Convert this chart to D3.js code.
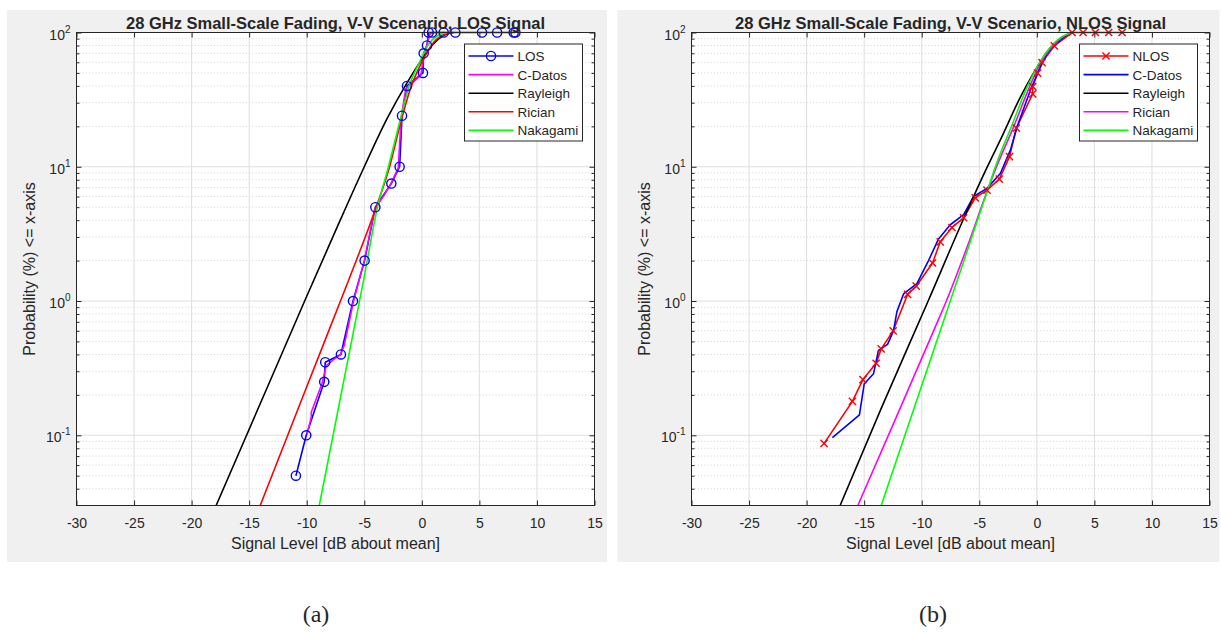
<!DOCTYPE html>
<html>
<head>
<meta charset="utf-8">
<script src="https://cdn.jsdelivr.net/npm/d3@7"></script>
<style>
  body { margin: 0; background: #fff; }
  svg { display: block; }
  text { font-family: Arial, "Liberation Sans", sans-serif; fill: #262626; }
</style>
</head>
<body>
<svg id="fig" width="1221" height="633"></svg>
<script>
// axis setup
const xTicks = [-30, -25, -20, -15, -10, -5, 0, 5, 10, 15];
const yTicks = [0.1, 1, 10, 100];
const xDomain = [-30, 15];
const yDomain = [0.03, 100];

// (a) LOS panel: [signal level dB, probability %]
const losMeasured = [[-10.94, 0.05], [-10.04, 0.1], [-8.48, 0.25], [-8.39, 0.35], [-7.03, 0.4], [-5.98, 1], [-4.97, 2], [-4.04, 5], [-2.65, 7.5], [-1.93, 10], [-1.72, 24], [-1.29, 40], [0.10, 50], [0.16, 70], [0.45, 80], [0.59, 100], [0.89, 100], [1.9, 100], [2.91, 100], [5.23, 100], [6.54, 100], [7.98, 100], [8.13, 100]];
const losCDatos = [[-9.98, 0.101], [-9.61, 0.136], [-9.6, 0.149], [-8.68, 0.242], [-8.3, 0.331], [-7.67, 0.366], [-7.09, 0.397], [-6.74, 0.467], [-5.93, 1.0], [-5.0, 2.0], [-4.1, 4.8], [-3.2, 6.3], [-2.75, 7.3], [-2.05, 9.8], [-1.8, 23], [-1.4, 38], [-0.1, 48], [0.2, 68], [0.5, 85], [0.7, 97], [1.0, 100], [2.0, 100]];
const losRayleigh = [[-17.87, 0.03], [-13.6, 0.21], [-10.18, 1.0], [-7.09, 4.0], [-5.0, 10], [-3.0, 23], [-1.3, 42], [0.16, 66], [1.0, 82], [1.8, 94], [2.7, 100]];
const losRician = [[-14.04, 0.03], [-10, 0.23], [-6.36, 1.43], [-4.04, 4.8], [-2.8, 10], [-1.8, 22], [-1.0, 38], [0, 60], [1, 84], [2, 97], [2.8, 100]];
const losNakagami = [[-8.91, 0.03], [-5.06, 1.43], [-3.85, 5], [-2.9, 10], [-1.9, 22], [-1.1, 40], [-0.2, 60], [0.6, 82], [1.4, 95], [2.3, 100]];

// (b) NLOS panel
const nlosMeasured = [[-18.48, 0.087], [-16.02, 0.179], [-15.11, 0.26], [-13.96, 0.344], [-13.52, 0.44], [-12.48, 0.6], [-11.23, 1.12], [-10.48, 1.29], [-9.06, 1.92], [-8.39, 2.76], [-7.37, 3.53], [-6.36, 4.17], [-5.35, 5.87], [-4.33, 6.7], [-3.26, 8.1], [-2.37, 11.9], [-1.78, 19.4], [-0.36, 34.9], [-0.36, 39.6], [0.07, 49.8], [0.45, 59.7], [1.52, 79.6], [3.06, 100], [4.02, 100], [5.09, 100], [6.24, 100], [7.41, 100]];
const nlosCDatos = [[-17.76, 0.096], [-15.41, 0.142], [-15.0, 0.241], [-14.19, 0.287], [-13.76, 0.428], [-12.97, 0.475], [-12.45, 0.6], [-12.16, 0.83], [-11.58, 1.13], [-10.42, 1.35], [-9.41, 2.0], [-8.54, 2.9], [-7.52, 3.7], [-6.36, 4.4], [-5.5, 6.0], [-4.33, 6.9], [-3.17, 8.9], [-2.3, 13.3], [-1.7, 20], [-0.57, 37], [0.16, 52], [0.89, 70], [2.04, 88], [2.91, 100]];
const nlosRayleigh = [[-17.09, 0.03], [-13.5, 0.16], [-9.44, 1.0], [-6.36, 4.1], [-4.5, 9.2], [-3.0, 17], [-1.43, 33], [-0.28, 50], [0.89, 72], [2.0, 90], [3.2, 100]];
const nlosRician = [[-15.55, 0.03], [-12, 0.15], [-8.97, 0.6], [-7.86, 1], [-6, 2.6], [-4.2, 7], [-3.5, 10], [-2.0, 20], [-0.6, 40], [0.35, 60], [1.4, 80], [2.2, 92], [3, 100]];
const nlosNakagami = [[-13.52, 0.03], [-8.39, 0.6], [-7.52, 1], [-4.2, 7], [-3.6, 10], [-2.2, 20], [-0.8, 40], [0.25, 60], [1.3, 80], [2.1, 92], [3, 100]];

const panels = [
  {
    bg: [7, 10, 600, 552], left: 76.5, caption: "(a)", capX: 316,
    title: "28 GHz Small-Scale Fading, V-V Scenario, LOS Signal",
    series: [
      { name: "LOS", data: losMeasured, color: "#0000ff", marker: "o" },
      { name: "C-Datos", data: losCDatos, color: "#ff00ff" },
      { name: "Rayleigh", data: losRayleigh, color: "#000000", smooth: true },
      { name: "Rician", data: losRician, color: "#ff0000", smooth: true },
      { name: "Nakagami", data: losNakagami, color: "#00ff00", smooth: true }
    ]
  },
  {
    bg: [617.5, 10, 602, 552], left: 691.5, caption: "(b)", capX: 933,
    title: "28 GHz Small-Scale Fading, V-V Scenario, NLOS Signal",
    series: [
      { name: "NLOS", data: nlosMeasured, color: "#ff0000", marker: "x" },
      { name: "C-Datos", data: nlosCDatos, color: "#0000ff" },
      { name: "Rayleigh", data: nlosRayleigh, color: "#000000", smooth: true },
      { name: "Rician", data: nlosRician, color: "#ff00ff", smooth: true },
      { name: "Nakagami", data: nlosNakagami, color: "#00ff00", smooth: true }
    ]
  }
];

const svg = d3.select("#fig");
const W = 518, TOP = 32.5, BOTTOM = 505.5;

function minorValues() {
  const out = [];
  for (let k = -2; k <= 1; k++) {
    for (let m = 2; m <= 9; m++) {
      const v = m * Math.pow(10, k);
      if (v > yDomain[0] && v < yDomain[1]) out.push(v);
    }
  }
  return out;
}

function drawMarker(sel, type, color) {
  if (type === "o") {
    sel.append("circle").attr("r", 4.6).attr("fill", "none")
      .attr("stroke", color).attr("stroke-width", 1.4);
  } else {
    sel.append("path").attr("d", "M-3.6,-3.6L3.6,3.6M-3.6,3.6L3.6,-3.6")
      .attr("stroke", color).attr("stroke-width", 1.4);
  }
}

function drawPanel(p, idx) {
  const g = svg.append("g");
  g.append("rect").attr("x", p.bg[0]).attr("y", p.bg[1])
    .attr("width", p.bg[2]).attr("height", p.bg[3]).attr("fill", "#f0f0f0");

  const x = d3.scaleLinear().domain(xDomain).range([p.left, p.left + W]);
  const y = d3.scaleLog().domain(yDomain).range([BOTTOM, TOP]);
  const right = p.left + W;

  g.append("rect").attr("x", p.left).attr("y", TOP)
    .attr("width", W).attr("height", BOTTOM - TOP).attr("fill", "#fff");

  // grid
  const grid = g.append("g");
  grid.selectAll(".mgy").data(minorValues()).join("line")
    .attr("x1", p.left).attr("x2", right)
    .attr("y1", d => y(d)).attr("y2", d => y(d))
    .attr("stroke", "#c8c8c8").attr("stroke-width", 0.8).attr("stroke-dasharray", "1,2.2");
  grid.selectAll(".gx").data(xTicks).join("line")
    .attr("x1", d => x(d)).attr("x2", d => x(d))
    .attr("y1", TOP).attr("y2", BOTTOM)
    .attr("stroke", "#dedede").attr("stroke-width", 1);
  grid.selectAll(".gy").data(yTicks).join("line")
    .attr("x1", p.left).attr("x2", right)
    .attr("y1", d => y(d)).attr("y2", d => y(d))
    .attr("stroke", "#dedede").attr("stroke-width", 1);

  // data
  const clipId = "clip" + idx;
  g.append("clipPath").attr("id", clipId).append("rect")
    .attr("x", p.left).attr("y", TOP - 6).attr("width", W).attr("height", BOTTOM - TOP + 6);
  const plot = g.append("g").attr("clip-path", `url(#${clipId})`);
  const lineLin = d3.line().x(d => x(d[0])).y(d => y(d[1]));
  const lineSmooth = d3.line().x(d => x(d[0])).y(d => y(d[1])).curve(d3.curveMonotoneX);

  p.series.forEach(s => {
    plot.append("path").datum(s.data)
      .attr("d", s.smooth ? lineSmooth : lineLin)
      .attr("fill", "none").attr("stroke", s.color).attr("stroke-width", 1.6)
      .attr("stroke-linejoin", "round");
    if (s.marker) {
      const mk = g.append("g").selectAll("g").data(s.data).join("g")
        .attr("transform", d => `translate(${x(d[0])},${y(d[1])})`);
      drawMarker(mk, s.marker, s.color);
    }
  });

  // axes (ticks inside)
  const axisColor = "#262626";
  const styleAxis = a => {
    a.select(".domain").remove();
    a.selectAll(".tick line").attr("stroke", axisColor);
    a.selectAll("text").attr("font-size", 14).attr("font-family", "Arial, 'Liberation Sans', sans-serif").attr("fill", axisColor);
  };
  g.append("g").attr("transform", `translate(0,${BOTTOM})`)
    .call(d3.axisBottom(x).tickValues(xTicks).tickSizeInner(-5).tickSizeOuter(0).tickPadding(13)
      .tickFormat(d => String(d)))
    .call(styleAxis);
  g.append("g").attr("transform", `translate(0,${TOP})`)
    .call(d3.axisTop(x).tickValues(xTicks).tickSizeInner(-5).tickSizeOuter(0).tickFormat(""))
    .call(styleAxis);
  [[d3.axisLeft, p.left], [d3.axisRight, right]].forEach(([ax, pos]) => {
    g.append("g").attr("transform", `translate(${pos},0)`)
      .call(ax(y).tickValues(yTicks).tickSizeInner(-5).tickSizeOuter(0).tickFormat(""))
      .call(styleAxis);
    g.append("g").attr("transform", `translate(${pos},0)`)
      .call(ax(y).tickValues(minorValues()).tickSizeInner(-3).tickSizeOuter(0).tickFormat(""))
      .call(styleAxis);
  });

  // y tick labels 10^k
  const yl = g.append("g");
  yTicks.forEach(v => {
    const t = yl.append("text").attr("x", p.left - 6).attr("y", y(v) + 7)
      .attr("text-anchor", "end").attr("font-size", 14);
    t.append("tspan").text("10");
    t.append("tspan").attr("font-size", 10).attr("dy", -7).text(String(Math.round(Math.log10(v))));
  });

  g.append("rect").attr("x", p.left).attr("y", TOP)
    .attr("width", W).attr("height", BOTTOM - TOP)
    .attr("fill", "none").attr("stroke", axisColor).attr("stroke-width", 1);

  // labels
  g.append("text").attr("x", p.left + W / 2).attr("y", 28.5)
    .attr("text-anchor", "middle").attr("font-size", 16.5).attr("font-weight", "bold")
    .attr("fill", "#000").text(p.title);
  g.append("text").attr("x", p.left + W / 2).attr("y", 549)
    .attr("text-anchor", "middle").attr("font-size", 16).text("Signal Level [dB about mean]");
  g.append("text").attr("transform", `translate(${p.left - 42},${(TOP + BOTTOM) / 2}) rotate(-90)`)
    .attr("text-anchor", "middle").attr("font-size", 16).text("Probability (%) <= x-axis");

  // legend
  const lx = right - 12 - 118, ly = 44;
  const lg = g.append("g");
  lg.append("rect").attr("x", lx).attr("y", ly).attr("width", 118).attr("height", 97)
    .attr("fill", "#fff").attr("stroke", axisColor).attr("stroke-width", 1);
  p.series.forEach((s, i) => {
    const ry = ly + 12 + i * 18.6;
    lg.append("line").attr("x1", lx + 4).attr("x2", lx + 49).attr("y1", ry).attr("y2", ry)
      .attr("stroke", s.color).attr("stroke-width", 1.6);
    if (s.marker) {
      const m = lg.append("g").attr("transform", `translate(${lx + 26.5},${ry})`);
      drawMarker(m, s.marker, s.color);
    }
    lg.append("text").attr("x", lx + 53).attr("y", ry + 5).attr("font-size", 13.5)
      .attr("fill", "#000").text(s.name);
  });

  // caption
  svg.append("text").attr("x", p.capX).attr("y", 622).attr("text-anchor", "middle")
    .attr("font-size", 24).style("font-family", "'Times New Roman', 'Liberation Serif', serif")
    .attr("fill", "#000").text(p.caption);
}

panels.forEach(drawPanel);
</script>
</body>
</html>
